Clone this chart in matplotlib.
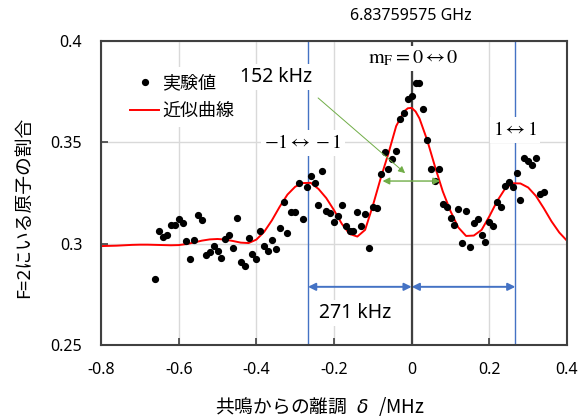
import matplotlib
matplotlib.use('Agg')
import matplotlib.pyplot as plt

# measured points (detuning MHz, fraction in F=2)
x_exp = [-0.66, -0.65, -0.64, -0.63, -0.62, -0.61, -0.60, -0.59, -0.58, -0.57,
         -0.56, -0.55, -0.54, -0.53, -0.52, -0.51, -0.50, -0.49, -0.48, -0.47,
         -0.46, -0.45, -0.44, -0.43, -0.42, -0.41, -0.40, -0.39, -0.38, -0.37,
         -0.36, -0.35, -0.34, -0.33, -0.32, -0.31, -0.30, -0.29, -0.28, -0.27,
         -0.26, -0.25, -0.24, -0.23, -0.22, -0.21, -0.20, -0.19, -0.18, -0.17,
         -0.16, -0.15, -0.14, -0.13, -0.12, -0.11, -0.10, -0.09, -0.08, -0.07,
         -0.06, -0.05, -0.04, -0.03, -0.02, -0.01, 0.00, 0.01, 0.02, 0.03,
         0.04, 0.05, 0.06, 0.07, 0.08, 0.09, 0.10, 0.11, 0.12, 0.13,
         0.14, 0.15, 0.16, 0.17, 0.18, 0.19, 0.20, 0.21, 0.22, 0.23,
         0.24, 0.25, 0.26, 0.27, 0.28, 0.29, 0.30, 0.31, 0.32, 0.33, 0.34]
y_exp = [0.2828, 0.3062, 0.3034, 0.3041, 0.3093, 0.3090, 0.3123, 0.3103, 0.3011, 0.2925,
         0.3016, 0.3142, 0.3118, 0.2945, 0.2958, 0.2988, 0.2964, 0.2927, 0.3024, 0.3043,
         0.2978, 0.3127, 0.2909, 0.2889, 0.3027, 0.2950, 0.2922, 0.3062, 0.2989, 0.2964,
         0.3016, 0.2973, 0.3077, 0.3207, 0.3053, 0.3154, 0.3156, 0.3299, 0.3123, 0.3278,
         0.3335, 0.3299, 0.3190, 0.3357, 0.3159, 0.3151, 0.3106, 0.3136, 0.3189, 0.3088,
         0.3060, 0.3060, 0.3154, 0.3088, 0.3144, 0.2981, 0.3182, 0.3174, 0.3343, 0.3454,
         0.3368, 0.3416, 0.3458, 0.3615, 0.3646, 0.3712, 0.3729, 0.3794, 0.3791, 0.3666,
         0.3511, 0.3368, 0.3310, 0.3368, 0.3195, 0.3182, 0.3125, 0.3090, 0.3169, 0.3001,
         0.3161, 0.2983, 0.3101, 0.3123, 0.3045, 0.3009, 0.3106, 0.3085, 0.3208, 0.3182,
         0.3284, 0.3302, 0.3279, 0.3350, 0.3216, 0.3421, 0.3409, 0.3388, 0.3422, 0.3245, 0.3256]

# fitted curve
x_fit = [-0.80, -0.78, -0.76, -0.74, -0.72, -0.70, -0.68, -0.66, -0.64, -0.62,
         -0.60, -0.58, -0.56, -0.54, -0.52, -0.50, -0.48, -0.46, -0.44, -0.42,
         -0.40, -0.38, -0.36, -0.34, -0.32, -0.30, -0.28, -0.26, -0.24, -0.22,
         -0.20, -0.18, -0.16, -0.14, -0.12, -0.10, -0.08, -0.06, -0.04, -0.02,
         -0.01, 0.00, 0.01, 0.02, 0.04, 0.06, 0.08, 0.10, 0.12, 0.14,
         0.16, 0.18, 0.20, 0.22, 0.24, 0.26, 0.28, 0.30, 0.32, 0.34,
         0.36, 0.38, 0.40]
y_fit = [0.2988, 0.2989, 0.2990, 0.2992, 0.2994, 0.2995, 0.2995, 0.2994, 0.2993, 0.2992,
         0.2993, 0.2998, 0.3006, 0.3015, 0.3021, 0.3023, 0.3020, 0.3013, 0.3005, 0.3003,
         0.3020, 0.3058, 0.3115, 0.3182, 0.3242, 0.3281, 0.3299, 0.3300, 0.3270, 0.3225,
         0.3165, 0.3098, 0.3048, 0.3035, 0.3068, 0.3188, 0.3322, 0.3445, 0.3580, 0.3652,
         0.3668, 0.3670, 0.3652, 0.3618, 0.3510, 0.3380, 0.3258, 0.3160, 0.3080, 0.3038,
         0.3040, 0.3068, 0.3135, 0.3210, 0.3270, 0.3298, 0.3297, 0.3277, 0.3235, 0.3175,
         0.3110, 0.3055, 0.3014]

side_peak = 0.267
fwhm_left = -0.075
fwhm_right = 0.073
fwhm_level = 0.3309
sep_level = 0.2787

x_ticks = [-0.8, -0.6, -0.4, -0.2, 0, 0.2, 0.4]
x_ticklabels = ['-0.8', '-0.6', '-0.4', '-0.2', '0', '0.2', '0.4']
y_ticks = [0.25, 0.3, 0.35, 0.4]
y_ticklabels = ['0.25', '0.3', '0.35', '0.4']

plt.rcParams['font.family'] = ['Noto Sans', 'Noto Sans CJK JP']

blue = '#4472c4'
green = '#70ad47'
dark = '#404040'

fig = plt.figure(figsize=(5.87, 4.2), dpi=100)
ax = fig.add_axes([0.1721, 0.1786, 0.7939, 0.7238])
ax.set_xlim(-0.8, 0.4)
ax.set_ylim(0.25, 0.4)
ax.set_xticks(x_ticks, x_ticklabels)
ax.set_yticks(y_ticks, y_ticklabels)
ax.grid(color='#d9d9d9', lw=1)
ax.set_axisbelow(True)
ax.tick_params(direction='in', length=5, width=1.2, color=dark, labelsize=11.5)
ax.tick_params(axis='x', pad=12)
ax.tick_params(axis='y', pad=13.5)
for s in ax.spines.values():
    s.set_color(dark)
    s.set_linewidth(1.5)

ax.axvline(-side_peak, color=blue, lw=1, zorder=1.5)
ax.axvline(side_peak, color=blue, lw=1, zorder=1.5)
ax.axvline(0, color=dark, lw=1.6, zorder=1.6)

ax.plot(x_exp, y_exp, 'o', color='black', ms=4.2, label='実験値', zorder=3)
ax.plot(x_fit, y_fit, color='red', lw=1.4, label='近似曲線', zorder=2.5)

leg = ax.legend(loc='upper left', bbox_to_anchor=(0.028, 0.945), fontsize=13,
                frameon=True, fancybox=False, edgecolor='none', framealpha=1,
                handlelength=1.6, handletextpad=0.15, labelspacing=0.55)
leg.set_zorder(5)

# blue spacing arrows
ax.annotate('', xy=(0, sep_level), xytext=(-side_peak, sep_level),
            arrowprops=dict(arrowstyle='<|-|>', color=blue, lw=1.4, mutation_scale=11,
                            shrinkA=0, shrinkB=0), zorder=4)
ax.annotate('', xy=(side_peak, sep_level), xytext=(0, sep_level),
            arrowprops=dict(arrowstyle='<|-|>', color=blue, lw=1.4, mutation_scale=11,
                            shrinkA=0, shrinkB=0), zorder=4)
# green width arrows
ax.annotate('', xy=(fwhm_right, fwhm_level), xytext=(fwhm_left, fwhm_level),
            arrowprops=dict(arrowstyle='<|-|>', color=green, lw=1, mutation_scale=10,
                            shrinkA=0, shrinkB=0), zorder=4)
ax.annotate('', xy=(-0.017, 0.3348), xytext=(-0.241, 0.3719),
            arrowprops=dict(arrowstyle='-|>', color=green, lw=0.7, mutation_scale=10,
                            shrinkA=0, shrinkB=0), zorder=4)

box = dict(facecolor='white', edgecolor='none', pad=2)
ax.text(-0.349, 0.3823, '152 kHz', fontsize=14, ha='center', va='center', bbox=box, zorder=6)
ax.text(-0.146, 0.2657, '271 kHz', fontsize=14, ha='center', va='center', bbox=box, zorder=6)
ax.text(-0.280, 0.3497, r'$-1 \leftrightarrow -1$', fontsize=14.5, math_fontfamily='stix',
        ha='center', va='center', bbox=box, zorder=6)
ax.text(0.266, 0.356, r'$1 \leftrightarrow 1$', fontsize=14.5, math_fontfamily='stix',
        ha='center', va='center', bbox=box, zorder=6)
ax.text(0.003, 0.3914, r'$\mathrm{m_F} = 0 \leftrightarrow 0$', fontsize=14.5,
        math_fontfamily='stix', ha='center', va='center', bbox=box, zorder=6)

fig.text(411 / 587, 1 - 16 / 420, '6.83759575 GHz', fontsize=11.5, ha='center', va='center')
fig.text(24 / 587, 1 - 207 / 420, 'F=2にいる原子の割合', fontsize=13.5, rotation=90,
         ha='center', va='center')
fig.text(320 / 587, 1 - 406 / 420, '共鳴からの離調 $\\ \\delta\\ $ /MHz', fontsize=13.5,
         family='Noto Sans CJK JP', ha='center', va='center')

fig.savefig('out.png', dpi=100)
